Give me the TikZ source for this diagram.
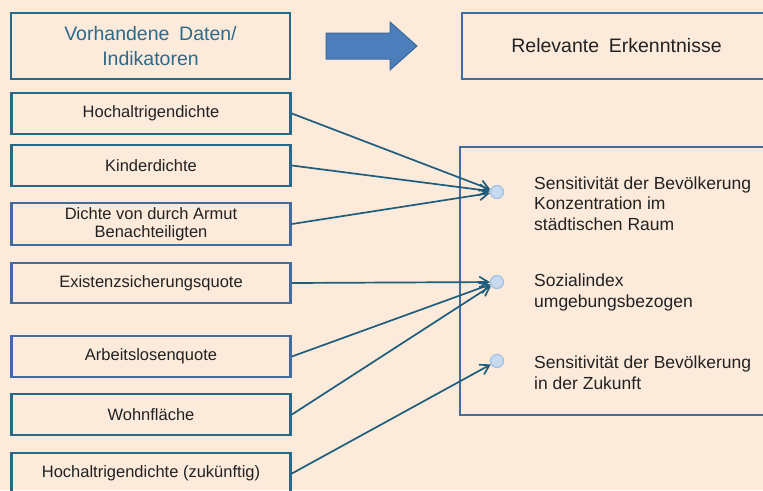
\documentclass[tikz,border=0pt]{standalone}
\usepackage{fontspec}
\setmainfont{Liberation Sans}
\usetikzlibrary{arrows.meta}

\definecolor{bg}{RGB}{252,234,219}
\definecolor{boxteal}{RGB}{40,104,136}
\definecolor{boxsteel}{RGB}{66,108,158}
\definecolor{ink}{RGB}{34,34,34}
\definecolor{headink}{RGB}{44,106,140}
\definecolor{linkcol}{RGB}{30,94,124}
\definecolor{dotfill}{RGB}{200,218,240}
\definecolor{dotline}{RGB}{160,192,228}
\definecolor{bigfill}{RGB}{76,126,188}
\definecolor{bigline}{RGB}{58,104,160}

\tikzset{
  databox/.style={draw=#1, line width=2.8pt, minimum width=279pt,
    minimum height=41pt, inner sep=0pt, text=ink, align=center,
    font=\fontsize{16.5}{18.5}\selectfont},
  databox/.default=boxteal,
  headbox/.style={draw=#1, line width=2.8pt, inner sep=0pt,
    font=\fontsize{19.5}{25}\selectfont, align=center},
  finding/.style={anchor=west, inner sep=0pt, text=ink, align=left,
    font=\fontsize{17.5}{20.5}\selectfont},
  dot/.style={circle, fill=dotfill, draw=dotline, line width=1.2pt,
    minimum size=13pt, inner sep=0pt},
  link/.style={draw=linkcol, line width=1.7pt,
    -{Straight Barb[length=9pt,width=11pt,line width=1.7pt]}}
}

\begin{document}
\begin{tikzpicture}[x=1pt,y=-1pt]
  % page area and background
  \clip (0,0) rectangle (763,490);
  \fill[bg] (0,0) rectangle (763,490);

  % column headers
  \node[headbox=boxteal, minimum width=279pt, minimum height=66pt,
        text=headink] (hdrL) at (150.5,46)
        {Vorhandene\hspace{0.5em}Daten/\\Indikatoren};
  \node[headbox=boxsteel, minimum width=309pt, minimum height=66pt,
        text=ink] (hdrR) at (616.5,46)
        {Relevante\hspace{0.5em}Erkenntnisse};

  % block arrow between the headers
  \filldraw[fill=bigfill, draw=bigline, line width=1pt]
    (326,33) -- (390,33) -- (390,22) -- (417,46) -- (390,70)
    -- (390,59) -- (326,59) -- cycle;

  % indicator boxes
  \node[databox] (h1) at (151,113.5) {Hochaltrigendichte};
  \node[databox] (h2) at (151,165.5) {Kinderdichte};
  \node[databox=boxsteel, minimum height=42pt] (h3) at (151,224)
        {Dichte von durch Armut\\Benachteiligten};
  \node[databox=boxsteel, minimum height=40pt] (h4) at (151,283)
        {Existenzsicherungsquote};
  \node[databox=boxsteel] (h5) at (151,356.5) {Arbeitslosenquote};
  \node[databox] (h6) at (151,414.5) {Wohnfläche};
  \node[databox] (h7) at (151,473.5) {Hochaltrigendichte (zukünftig)};

  % findings panel
  \draw[boxsteel, line width=2.8pt] (460,147) rectangle (800,415);

  \node[dot] (c1) at (497,192) {};
  \node[dot] (c2) at (497,282) {};
  \node[dot] (c3) at (497,361) {};

  \node[finding] (f1) at (534,203.5)
    {Sensitivität der Bevölkerung\\Konzentration im\\städtischen Raum};
  \node[finding] (f2) at (534,292.5) {Sozialindex\\umgebungsbezogen};
  \node[finding] (f3) at (534,372.5)
    {Sensitivität der Bevölkerung\\in der Zukunft};

  % indicator-to-finding links
  \draw[link] (h1.east) -- (c1);
  \draw[link] (h2.east) -- (c1);
  \draw[link] (h3.east) -- (c1);
  \draw[link] (h4.east) -- (c2);
  \draw[link] (h5.east) -- (c2);
  \draw[link] (h6.east) -- (c2);
  \draw[link] (h7.east) -- (c3);
\end{tikzpicture}
\end{document}
